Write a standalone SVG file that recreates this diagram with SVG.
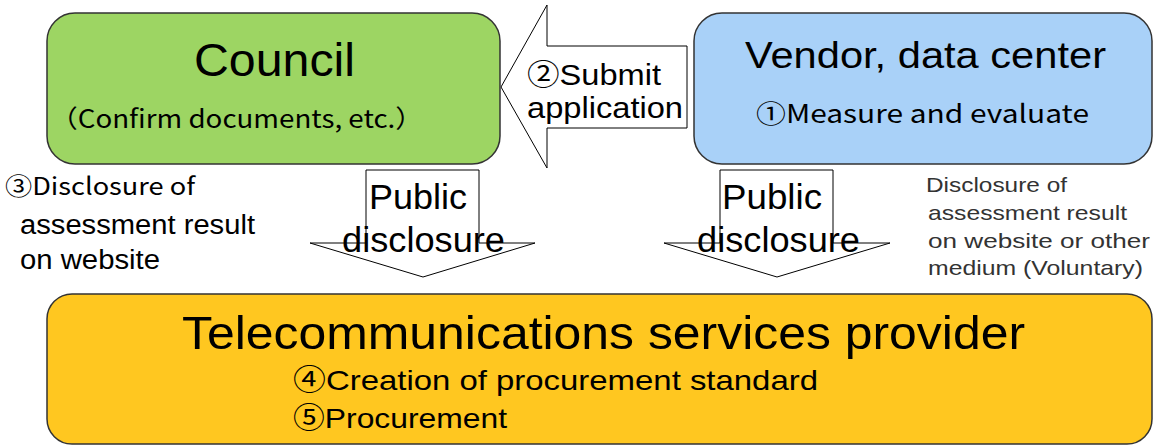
<svg xmlns="http://www.w3.org/2000/svg" width="1154" height="446" viewBox="0 0 1154 446">
<style>
.box{stroke:#333;stroke-width:1.5}
.arrow{fill:#fff;stroke:#000;stroke-width:1}
.s{font-family:"Liberation Sans","Noto Sans CJK JP",sans-serif;fill:#000}
.j{font-family:"Noto Sans CJK JP","Noto Sans",sans-serif;fill:#000}
.g{font-family:"Liberation Sans","Noto Sans CJK JP",sans-serif;fill:#333}
</style>
<rect width="1154" height="446" fill="#fff"/>
<g id="connectors">
<polygon class="arrow" points="687,46 547,46 547,5 501,87 547,168 547,128 687,128"/>
<polygon class="arrow" points="366,170 479,170 479,243 535,243 423,277 310,243 366,243"/>
<polygon class="arrow" points="720,170 833,170 833,243 890,243 777,277 664,243 720,243"/>
<text class="s" font-size="29" x="527" y="85" textLength="134" lengthAdjust="spacingAndGlyphs">②Submit</text>
<text class="s" font-size="29" x="527" y="118" textLength="156" lengthAdjust="spacingAndGlyphs">application</text>
<text class="s" font-size="35" x="369" y="209" textLength="98" lengthAdjust="spacingAndGlyphs">Public</text>
<text class="s" font-size="35" x="342" y="252" textLength="163" lengthAdjust="spacingAndGlyphs">disclosure</text>
<text class="s" font-size="35" x="722" y="209" textLength="100" lengthAdjust="spacingAndGlyphs">Public</text>
<text class="s" font-size="35" x="697" y="252" textLength="163" lengthAdjust="spacingAndGlyphs">disclosure</text>
</g>
<g id="council">
<rect class="box" x="47" y="13" width="453" height="151" rx="28" fill="#9DD563"/>
<text class="s" font-size="47" x="194" y="76" textLength="161" lengthAdjust="spacingAndGlyphs">Council</text>
<text class="j" font-size="25" x="50" y="128" textLength="373" lengthAdjust="spacingAndGlyphs">（Confirm documents, etc.）</text>
</g>
<g id="vendor">
<rect class="box" x="694" y="13" width="458" height="151" rx="28" fill="#A9D1F8"/>
<text class="s" font-size="37" x="745" y="68" textLength="361" lengthAdjust="spacingAndGlyphs">Vendor, data center</text>
<text class="j" font-size="25" x="756" y="123" textLength="333" lengthAdjust="spacingAndGlyphs">①Measure and evaluate</text>
</g>
<g id="council-note">
<text class="j" font-size="24" x="5" y="195" textLength="190" lengthAdjust="spacingAndGlyphs">③Disclosure of</text>
<text class="s" font-size="27" x="20" y="234" textLength="235" lengthAdjust="spacingAndGlyphs">assessment result</text>
<text class="s" font-size="27" x="20" y="269" textLength="140" lengthAdjust="spacingAndGlyphs">on website</text>
</g>
<g id="vendor-note">
<text class="g" font-size="21" x="926" y="192" textLength="141" lengthAdjust="spacingAndGlyphs">Disclosure of</text>
<text class="g" font-size="21" x="928" y="220" textLength="199" lengthAdjust="spacingAndGlyphs">assessment result</text>
<text class="g" font-size="21" x="928" y="248" textLength="222" lengthAdjust="spacingAndGlyphs">on website or other</text>
<text class="g" font-size="21" x="928" y="275" textLength="215" lengthAdjust="spacingAndGlyphs">medium (Voluntary)</text>
</g>
<g id="provider">
<rect class="box" x="47" y="294" width="1105" height="150" rx="25" fill="#FFC720"/>
<text class="s" font-size="47" x="182" y="349" textLength="843" lengthAdjust="spacingAndGlyphs">Telecommunications services provider</text>
<text class="s" font-size="28" x="293" y="390" textLength="525" lengthAdjust="spacingAndGlyphs">④Creation of procurement standard</text>
<text class="s" font-size="28" x="293" y="428" textLength="214" lengthAdjust="spacingAndGlyphs">⑤Procurement</text>
</g>
</svg>
